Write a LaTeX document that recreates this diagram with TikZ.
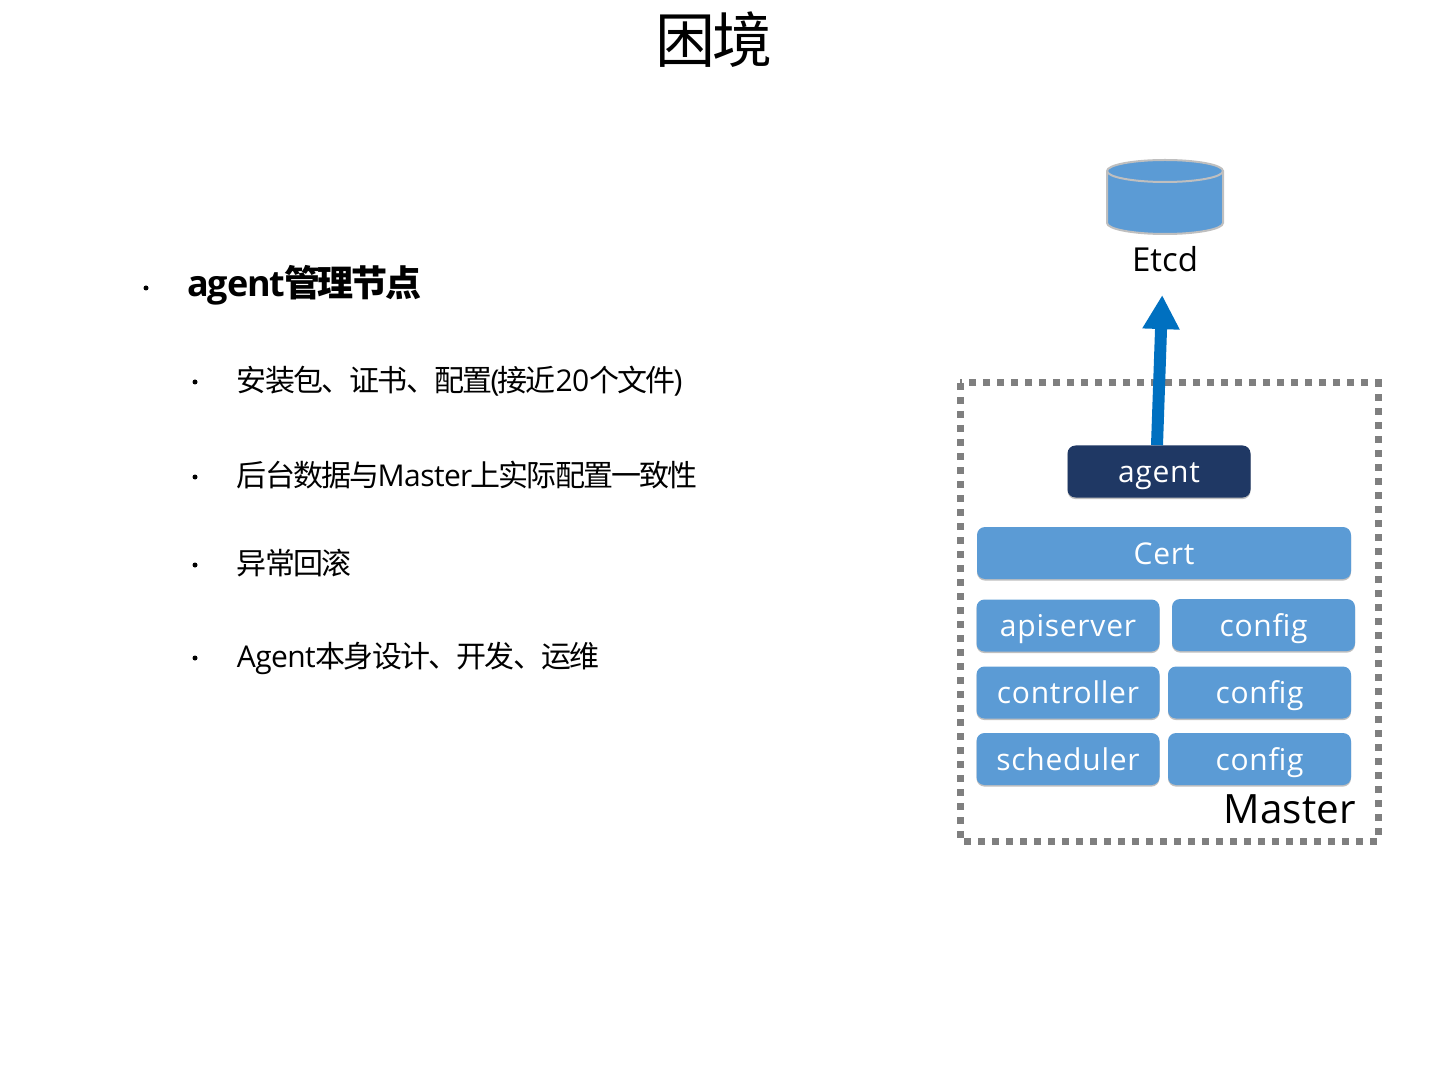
\documentclass[tikz,border=0pt]{standalone}
\usepackage{fontspec}
\setmainfont{Open Sans}
\newfontfamily\cjk[LetterSpace=-6]{Noto Sans CJK SC}
\newfontfamily\tight[LetterSpace=-2]{Open Sans}
\newfontfamily\tighter[LetterSpace=-3.5]{Open Sans}
\newfontfamily\wide[LetterSpace=2.5]{Open Sans}
\usetikzlibrary{arrows.meta, shadows}
\usetikzlibrary{positioning}
\definecolor{box_blue}{HTML}{5B9BD5}
\definecolor{box_navy}{HTML}{1F3864}
\definecolor{arrow_blue}{HTML}{0070C0}
\definecolor{border_gray}{HTML}{7F7F7F}
\definecolor{etcd_edge}{HTML}{BFBFBF}
\tikzstyle{blue_box} = [
    rectangle,
    rounded corners=4pt,
    fill=box_blue,
    text=white,
    font=\fontsize{15}{15}\selectfont\wide,
    align=center,
    inner sep=0pt,
    text height=12.5pt,
    text depth=1.5pt,
    minimum width=91.5pt,
    minimum height=26pt,
    drop shadow={shadow xshift=0pt, shadow yshift=-0.8pt, fill=black, opacity=0.25}
]
\tikzstyle{navy_box} = [
    blue_box,
    fill=box_navy
]
\tikzstyle{bullet_mark} = [
    circle,
    fill=black,
    inner sep=0pt,
    minimum size=2.5pt
]
\tikzstyle{top_item} = [
    anchor=west,
    inner sep=0pt,
    text height=16pt,
    text depth=2.5pt,
    font=\fontsize{18}{18}\selectfont\bfseries\tighter
]
\tikzstyle{sub_item} = [
    anchor=west,
    inner sep=0pt,
    text height=13pt,
    text depth=2pt,
    font=\fontsize{15}{15}\selectfont\tight
]
\tikzstyle{etcd_line} = [
    draw=etcd_edge,
    line width=1pt
]
\begin{document}
\begin{tikzpicture}[x=0.5pt, y=-0.5pt]
\useasboundingbox (0,0) rectangle (1440,1080);
\node [font=\fontsize{30}{30}\selectfont\cjk] (title) at (714,40) {困境};
% left column
\node [bullet_mark] (mark_top) at (146,288) {};
\node [top_item] (item_top) at (187,283.5) {agent{\cjk\bfseries\kern-0.5pt 管理节点}};
\node [bullet_mark] (mark_a) at (195,382) {};
\node [sub_item] (item_a) at (236.5,381) {{\cjk 安装包、证书、配置}\kern-1pt(\kern-1pt{\cjk 接近}20{\cjk 个文件}\kern-1pt)};
\node [bullet_mark] (mark_b) at (195,477) {};
\node [sub_item] (item_b) at (236.5,476) {{\cjk 后台数据与}\kern-1pt Master\kern-1pt{\cjk 上实际配置一致性}};
\node [bullet_mark] (mark_c) at (195,565) {};
\node [sub_item] (item_c) at (236.5,563) {{\cjk 异常回滚}};
\node [bullet_mark] (mark_d) at (195,658) {};
\node [sub_item] (item_d) at (236.5,656) {Agent{\cjk 本身设计、开发、运维}};
% master
\draw [border_gray, line width=3.5pt, dash pattern=on 3.5pt off 3.5pt] (960,383) rectangle (1378,841);
\node [navy_box] (agent) at (1159,471.5) {agent};
\node [blue_box, minimum width=187pt] (cert) at (1164,553) {Cert};
\node [blue_box] (apiserver) at (1068,625.5) {apiserver};
\node [blue_box] (config_a) at (1263.5,625) {config};
\node [blue_box] (controller) at (1068,692.5) {controller};
\node [blue_box] (config_b) at (1259.5,692.5) {config};
\node [blue_box] (scheduler) at (1068,759) {scheduler};
\node [blue_box] (config_c) at (1259.5,759) {config};
\node [font=\fontsize{20.2}{20.2}\selectfont, anchor=east, inner sep=0pt] (master) at (1356,809) {Master};
% etcd
\path [etcd_line, fill=box_blue] (1107,171) -- (1107,223) arc (180:0:58 and 11) -- (1223,171) arc (0:-180:58 and 11) -- cycle;
\draw [etcd_line] (1107,171) arc (180:0:58 and 11);
\node [font=\fontsize{16.5}{16.5}\selectfont, inner sep=0pt] (etcd_label) at (1165,259) {Etcd};
\draw [
    arrow_blue,
    line width=6pt,
    -{Triangle[width=17.5pt, length=17pt]},
    shorten >=11.5pt
] ([xshift=-1pt]agent.north) -- ([xshift=-1pt]etcd_label.south);
\end{tikzpicture}
\end{document}
